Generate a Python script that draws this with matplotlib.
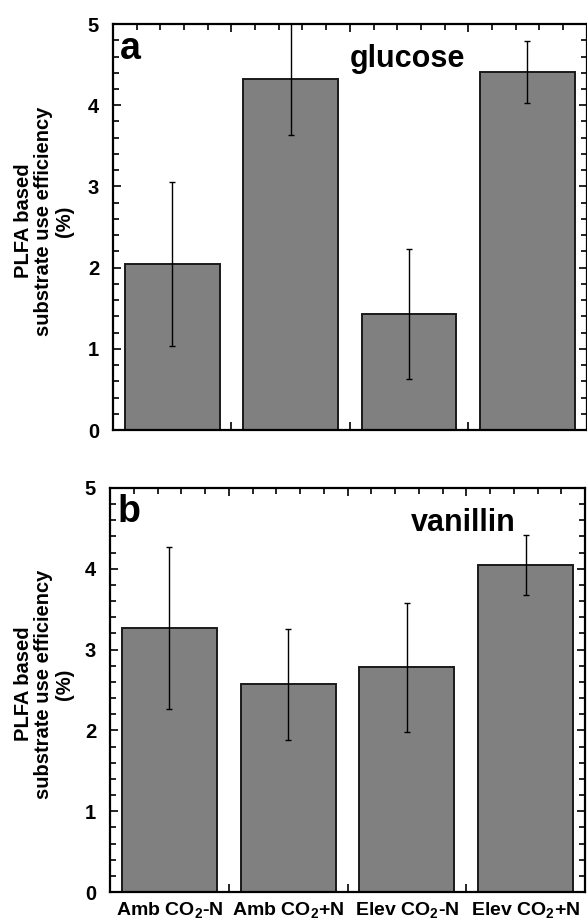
import numpy as np
import matplotlib
matplotlib.use('Agg')
import matplotlib.pyplot as plt
from matplotlib.ticker import MultipleLocator, FixedLocator

plt.rcParams['font.family'] = ['Liberation Sans', 'DejaVu Sans']
plt.rcParams['font.weight'] = 'bold'
plt.rcParams['mathtext.fontset'] = 'custom'
plt.rcParams['mathtext.bf'] = 'Liberation Sans:bold'
plt.rcParams['mathtext.rm'] = 'Liberation Sans:bold'
plt.rcParams['mathtext.default'] = 'bf'

categories = ['Amb CO$_2$-N', 'Amb CO$_2$+N', 'Elev CO$_2$-N', 'Elev CO$_2$+N']

glucose_mean = [2.05, 4.32, 1.43, 4.41]
glucose_err = [1.01, 0.69, 0.80, 0.38]

vanillin_mean = [3.27, 2.57, 2.78, 4.05]
vanillin_err = [1.00, 0.69, 0.80, 0.37]

panels = [
    ('a', 'glucose', glucose_mean, glucose_err),
    ('b', 'vanillin', vanillin_mean, vanillin_err),
]

fig = plt.figure(figsize=(5.87, 9.24), dpi=100)
ax_top = fig.add_axes([0.1925, 0.5346, 0.807, 0.4394])
ax_bot = fig.add_axes([0.1874, 0.0346, 0.8092, 0.4374])

x = np.arange(len(categories))
title_x = [0.622, 0.743]

for ax, (letter, name, mean, err), tx in zip([ax_top, ax_bot], panels, title_x):
    ax.bar(x, mean, width=0.8, color='#808080', edgecolor='#1a1a1a',
           linewidth=1.4, zorder=2)
    ax.errorbar(x, mean, yerr=err, fmt='none', ecolor='black',
                elinewidth=1.0, capsize=2.4, capthick=1.0, zorder=3)
    ax.set_xlim(-0.5, 3.5)
    ax.set_ylim(0, 5)
    ax.yaxis.set_major_locator(MultipleLocator(1))
    ax.yaxis.set_minor_locator(MultipleLocator(0.2))
    ax.xaxis.set_major_locator(FixedLocator([0.5, 1.5, 2.5]))
    ax.xaxis.set_minor_locator(FixedLocator(np.arange(-0.3, 3.5, 0.2)))
    ax.tick_params(which='both', direction='in', top=True, right=True, width=1.2)
    ax.tick_params(which='major', length=6)
    ax.tick_params(which='minor', length=4)
    ax.tick_params(axis='y', labelsize=14.5, pad=10)
    ax.set_xticklabels([])
    for s in ax.spines.values():
        s.set_linewidth(1.6)
    ax.text(0.015, 0.915, letter, transform=ax.transAxes, fontsize=27,
            fontweight='bold', ha='left', va='baseline')
    ax.text(tx, 0.893, name, transform=ax.transAxes, fontsize=22,
            fontweight='bold', ha='center', va='baseline')

for xi, lab in zip(x, categories):
    ax_bot.text(xi, -0.057, lab, transform=ax_bot.get_xaxis_transform(),
                fontsize=14, fontweight='bold', ha='center', va='baseline')

ylab = 'PLFA based\nsubstrate use efficiency\n(%)'
for ax in [ax_top, ax_bot]:
    pos = ax.get_position()
    fig.text(44 / 587, (pos.y0 + pos.y1) / 2 + 0.0065, ylab, rotation=90,
             fontsize=14.5, fontweight='bold', ha='center', va='center',
             linespacing=1.12, multialignment='center')

fig.savefig('out.png', dpi=100)
